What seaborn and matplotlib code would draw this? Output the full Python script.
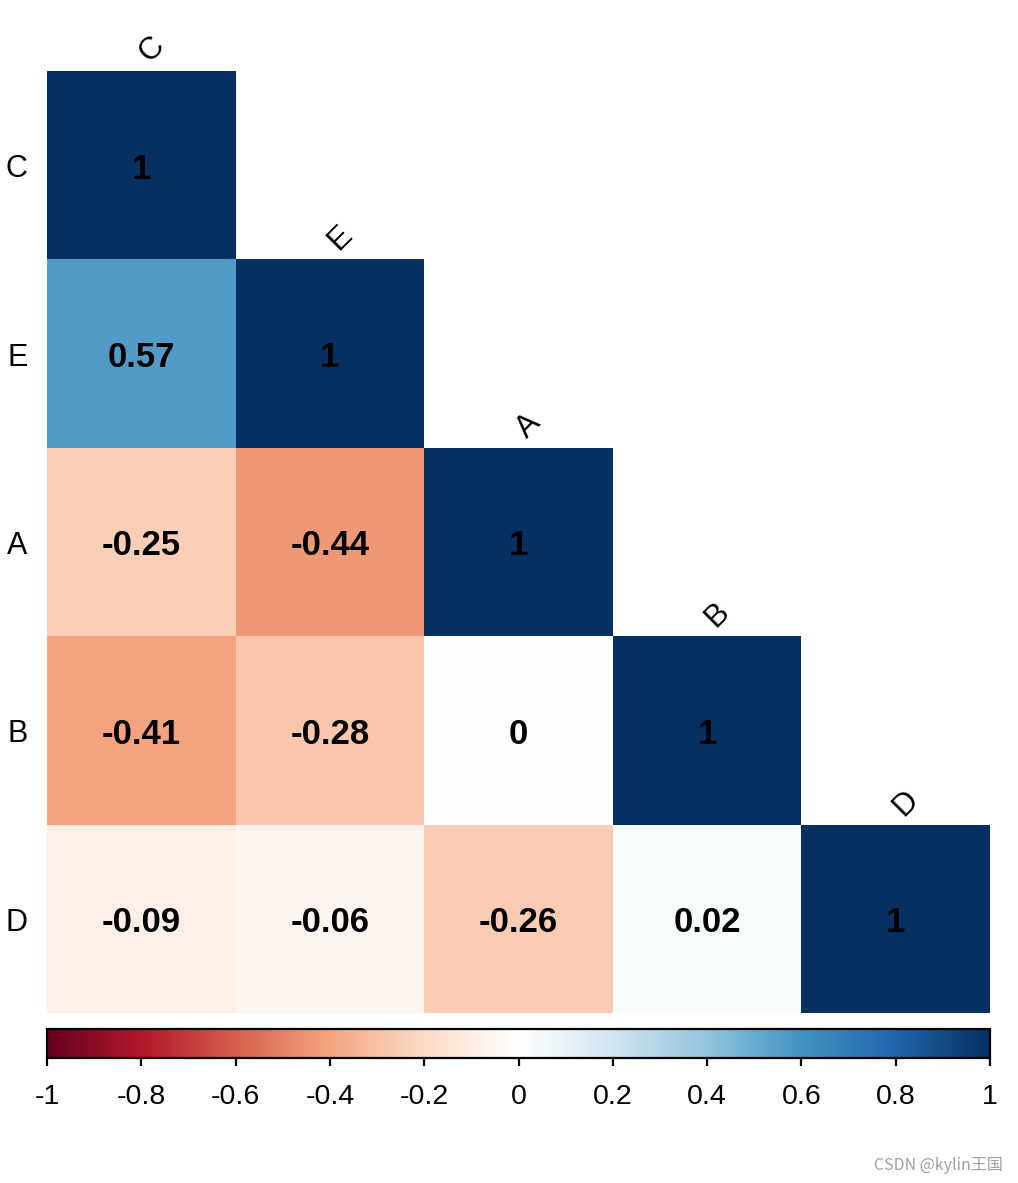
import numpy as np
import pandas as pd
import matplotlib
matplotlib.use('Agg')
import matplotlib.pyplot as plt
from matplotlib.colors import LinearSegmentedColormap
from matplotlib.transforms import ScaledTranslation
import seaborn as sns

sns.set_theme(style="white")
plt.rcParams['font.family'] = ['Liberation Sans', 'DejaVu Sans']

# variable order as in the picture (hclust order)
labels = ['C', 'E', 'A', 'B', 'D']

# lower triangle of the correlation matrix, row by row
row_C = [1]
row_E = [0.57, 1]
row_A = [-0.25, -0.44, 1]
row_B = [-0.41, -0.28, 0, 1]
row_D = [-0.09, -0.06, -0.26, 0.02, 1]

cbar_ticks = [-1, -0.8, -0.6, -0.4, -0.2, 0, 0.2, 0.4, 0.6, 0.8, 1]

# corrplot COL2('RdBu') palette, white in the middle
rdbu_cols = ["#67001F", "#B2182B", "#D6604D", "#F4A582", "#FDDBC7", "#FFFFFF",
             "#D1E5F0", "#92C5DE", "#4393C3", "#2166AC", "#053061"]
cmap = LinearSegmentedColormap.from_list('corr_rdbu', rdbu_cols, N=200)

n = len(labels)
corr = np.zeros((n, n))
for i, row in enumerate([row_C, row_E, row_A, row_B, row_D]):
    for j, v in enumerate(row):
        corr[i, j] = v
        corr[j, i] = v
df = pd.DataFrame(corr, index=labels, columns=labels)

mask = np.triu(np.ones_like(corr, dtype=bool), k=1)
annot = df.map(lambda v: f"{v:g}")

fig = plt.figure(figsize=(10.18, 11.83), dpi=100)
ax = fig.add_axes([0.0462, 0.1437, 0.9263, 0.7963])
cax = fig.add_axes([0.0462, 0.1057, 0.9263, 0.0245])

sns.heatmap(df, mask=mask, cmap=cmap, vmin=-1, vmax=1, annot=annot, fmt='',
            annot_kws={'fontsize': 25, 'fontweight': 'bold', 'color': 'black'},
            ax=ax, cbar_ax=cax, cbar_kws={'orientation': 'horizontal', 'ticks': cbar_ticks})

# nudge cell numbers a few pixels down, as in the original
down = ScaledTranslation(0, -4 / 100, fig.dpi_scale_trans)
for t in ax.texts:
    t.set_transform(t.get_transform() + down)

ax.set_xticks([])
ax.set_xlabel('')
ax.set_ylabel('')
ax.tick_params(axis='y', length=0, pad=14, labelsize=22, rotation=0)
for lab in ax.get_yticklabels():
    lab.set_color('black')
    lab.set_transform(lab.get_transform() + down)

# diagonal labels, rotated like corrplot's tl.srt = 45
for i, name in enumerate(labels):
    ax.text(i + 0.555, i - 0.115, name, rotation=45, ha='center', va='center',
            fontsize=22.5, color='black')

cbar = ax.collections[0].colorbar
cbar.outline.set_edgecolor('black')
cbar.outline.set_linewidth(1.6)
cbar.set_ticklabels([f"{t:g}" for t in cbar_ticks])
cax.tick_params(axis='x', direction='out', length=6, width=1.6, color='black',
                labelsize=20.5, pad=13, labelcolor='black', bottom=True)

fig.text(0.985, 0.008, 'CSDN @kylin王国', ha='right', va='bottom', fontsize=11.5,
         color='#a0a0a0', family=['Noto Sans CJK SC', 'DejaVu Sans'])

fig.savefig('out.png', dpi=100, facecolor='white')
